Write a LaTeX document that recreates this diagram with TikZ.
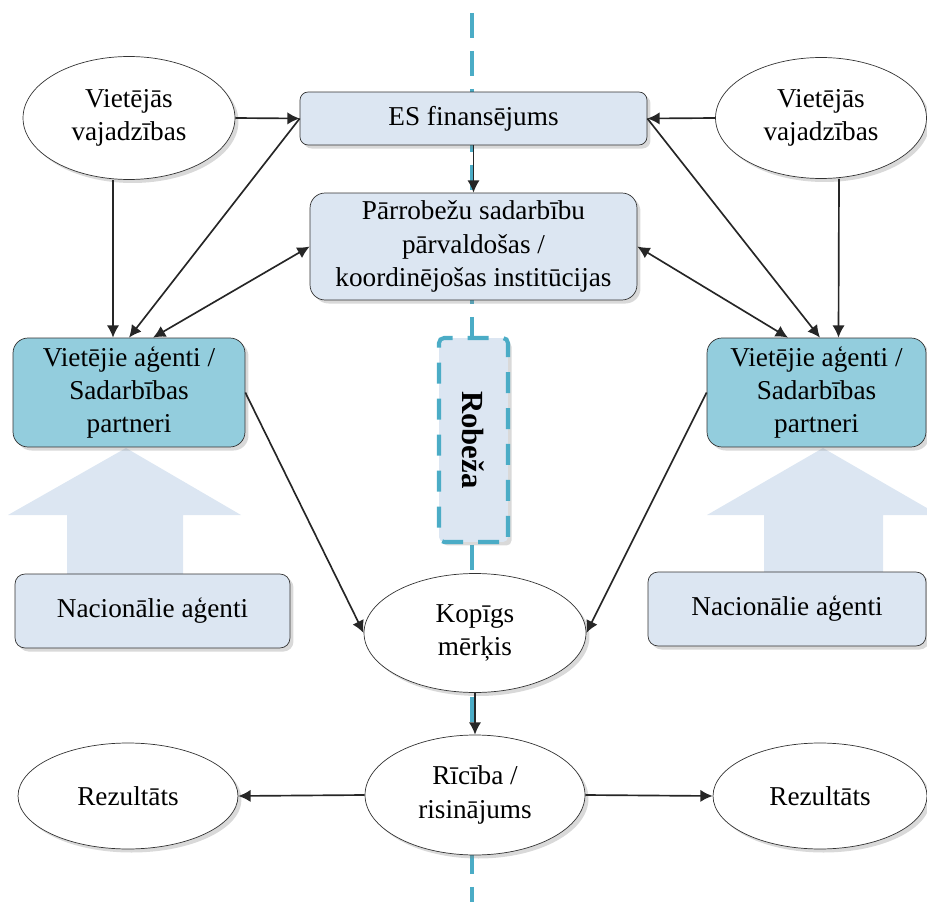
\documentclass[tikz,border=0pt]{standalone}
\usepackage{fontspec}
\setmainfont{Liberation Serif}
\usetikzlibrary{shapes.geometric,shadows,arrows.meta}

\definecolor{boxblue}{RGB}{220,230,242}
\definecolor{agentblue}{RGB}{147,205,221}
\definecolor{bordercol}{RGB}{75,172,198}

\tikzset{
	txt/.style={font=\rmfamily\fontsize{15.5}{19}\selectfont, align=center, inner sep=1pt},
	oval/.style={txt, shape=ellipse, draw=black!80, fill=white,
		drop shadow={opacity=0.3, shadow xshift=2pt, shadow yshift=-2pt}},
	box/.style={txt, shape=rectangle, draw=black!80, fill=boxblue, rounded corners=0.2cm,
		drop shadow={opacity=0.3, shadow xshift=2pt, shadow yshift=-2pt}},
	agent/.style={box, fill=agentblue, rounded corners=0.3cm},
	link/.style={line width=0.95pt, color=black!85}
}

\begin{document}
\begin{tikzpicture}[x=0.02cm, y=-0.02cm, >={Latex[length=7pt,width=7pt]}]
	
	\useasboundingbox (0,0) rectangle (927,902);
	
	% robeza line
	\draw[bordercol, line width=2.8pt, dash pattern=on 0.5cm off 0.26cm] (472,13) -- (472,902);
	
	% big arrows
	\fill[boxblue] (126,448) -- (241,515) -- (183,515) -- (183,590) -- (67,590) -- (67,515) -- (8,515) -- cycle;
	\fill[boxblue] (823,448) -- (939,515) -- (883,515) -- (883,590) -- (764,590) -- (764,515) -- (707,515) -- cycle;
	
	\node[oval, minimum width=4.24cm, minimum height=2.46cm] (vl) at (129, 118) {Vietējās\\vajadzības};
	\node[oval, minimum width=4.22cm, minimum height=2.42cm] (vr) at (821, 118) {Vietējās\\vajadzības};
	\node[box, minimum width=6.94cm, minimum height=1.06cm, rounded corners=0.16cm] (es) at (473.5, 118.5) {ES finansējums};
	\node[box, minimum width=6.54cm, minimum height=2.14cm, rounded corners=0.3cm] (pc) at (473.5, 246.5) {Pārrobežu sadarbību\\pārvaldošas /\\koordinējošas institūcijas};
	\node[agent, minimum width=4.64cm, minimum height=2.18cm] (al) at (129, 392.5) {Vietējie aģenti /\\Sadarbības\\partneri};
	\node[agent, minimum width=4.38cm, minimum height=2.18cm] (ar) at (816.5, 392.5) {Vietējie aģenti /\\Sadarbības\\partneri};
	\node[box, minimum width=5.5cm, minimum height=1.48cm] (nl) at (152.5, 611) {Nacionālie aģenti};
	\node[box, minimum width=5.56cm, minimum height=1.48cm] (nr) at (787, 609) {Nacionālie aģenti};
	\node[box, rotate=-90, rounded corners=0.1cm, draw=bordercol, line width=2.3pt, dash pattern=on 0.42cm off 0.3cm,
		minimum width=4.08cm, minimum height=1.38cm, font=\rmfamily\fontsize{17.5}{20}\selectfont\bfseries] (rb) at (473.5, 440) {Robeža};
	\node[oval, minimum width=4.44cm, minimum height=2.38cm] (kg) at (475, 633) {Kopīgs\\mērķis};
	\node[oval, minimum width=4.4cm, minimum height=2.4cm] (rr) at (475, 795) {Rīcība /\\risinājums};
	\node[oval, minimum width=4.4cm, minimum height=2.12cm] (zl) at (128, 796) {Rezultāts};
	\node[oval, minimum width=4.28cm, minimum height=2.12cm] (zr) at (820, 796) {Rezultāts};
	
	\path[->, link] (vl.east) edge (es.west);
	\path[->, link] (vr.west) edge (es.east);
	\path[->, link] (es.south) edge (pc.north);
	\path[->, link] ([xshift=-0.32cm]vl.south) edge ([xshift=-0.32cm]al.north);
	\path[->, link] (es.west) edge (al.north);
	\path[<->, link] (pc.west) edge ([xshift=0.48cm]al.north);
	\path[->, link] ([xshift=0.36cm]vr.south) edge ([xshift=0.44cm]ar.north);
	\path[->, link] (es.east) edge ([xshift=0.07cm]ar.north);
	\path[<->, link] (pc.east) edge ([xshift=-0.57cm]ar.north);
	\path[->, link] (al.east) edge (kg.west);
	\path[->, link] (ar.west) edge (kg.east);
	\path[->, link] (kg.south) edge (rr.north);
	\path[->, link] (rr.west) edge (zl.east);
	\path[->, link] (rr.east) edge (zr.west);
	
\end{tikzpicture}
\end{document}
